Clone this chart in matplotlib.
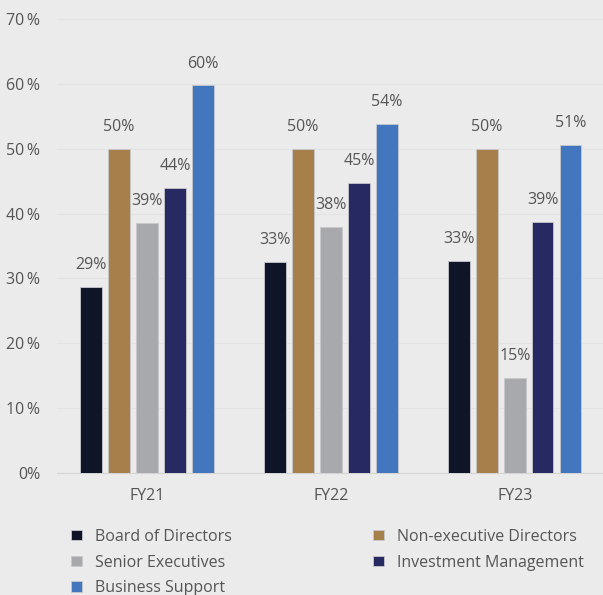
import numpy as np
import matplotlib.pyplot as plt
from matplotlib.ticker import FuncFormatter

plt.rcParams['font.family'] = ['Open Sans', 'DejaVu Sans']

years = ['FY21', 'FY22', 'FY23']
series = ['Board of Directors', 'Non-executive Directors', 'Senior Executives',
          'Investment Management', 'Business Support']
board = [28.7, 32.6, 32.7]
non_exec = [50.0, 50.0, 50.0]
senior = [38.6, 37.9, 14.7]
invest = [43.9, 44.7, 38.7]
support = [59.8, 53.8, 50.6]
colors = ['#0f1428', '#a67f4a', '#a8a9ad', '#272a62', '#4277bf']

bg = '#ebebeb'
txt = '#555555'

fig = plt.figure(figsize=(6.03, 5.95), dpi=100, facecolor=bg)
ax = fig.add_axes([0.0945, 0.2055, 0.9055, 0.762], facecolor=bg)

x = np.arange(len(years))
step = 0.152
width = 0.117
handles = []
for i, (name, vals) in enumerate(zip(series, [board, non_exec, senior, invest, support])):
    pos = x + (i - 2) * step
    bars = ax.bar(pos, vals, width, color=colors[i], edgecolor='#c8c8cc', linewidth=0.6,
                  label=name, zorder=3)
    handles.append(bars)
    for p, v in zip(pos, vals):
        ax.annotate(f'{v:.0f}%', (p, v), xytext=(0, 10), textcoords='offset points',
                    ha='center', va='bottom', fontsize=11.5, color=txt)

ax.set_xlim(-0.49, 2.48)
ax.set_ylim(0, 70)
ax.set_yticks(range(0, 71, 10))
ax.yaxis.set_major_formatter(FuncFormatter(lambda v, _: '0%' if v == 0 else f'{v:.0f}\u2009%'))
ax.set_xticks(x)
ax.set_xticklabels(years)
ax.tick_params(axis='both', length=0, labelsize=11.5, labelcolor=txt)
ax.tick_params(axis='x', pad=11)
ax.tick_params(axis='y', pad=12)
ax.grid(axis='y', color='#e3e3e3', linewidth=0.8, zorder=0)
for s in ['top', 'right', 'left']:
    ax.spines[s].set_visible(False)
ax.spines['bottom'].set_color('#d4d4d4')

order = [0, 2, 4, 1, 3]
leg = fig.legend([handles[k] for k in order], [series[k] for k in order],
                 ncol=2, loc='upper left', bbox_to_anchor=(0.105, 0.125),
                 frameon=False, fontsize=11.5, labelcolor=txt,
                 handlelength=0.65, handleheight=0.65, handletextpad=0.85,
                 columnspacing=8.85, labelspacing=0.62, borderpad=0)

fig.savefig('out.png', dpi=100, facecolor=bg)
